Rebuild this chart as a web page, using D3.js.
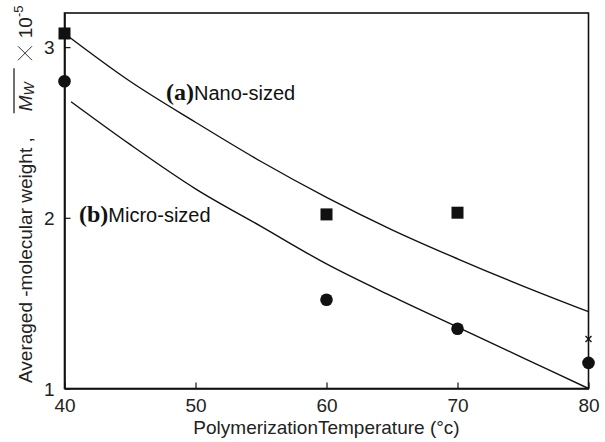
<!DOCTYPE html>
<html><head><meta charset="utf-8">
<script src="https://cdn.jsdelivr.net/npm/d3@7"></script>
<style>html,body{margin:0;padding:0;background:#fff;}svg{display:block;}</style>
</head><body>
<svg id="chart" width="605" height="442"></svg>
<script>
// Data
const xTicks = [40, 50, 60, 70, 80];
const yTicks = [1, 2, 3];
const nanoTemps = [40, 60, 70];
const nanoValues = [3.08, 2.02, 2.03];
const microTemps = [40, 60, 70, 80];
const microValues = [2.80, 1.52, 1.35, 1.15];
const crossTemps = [80];
const crossValues = [1.29];
const nanoCurveTemps = [40, 45, 50, 55, 60, 65, 70, 75, 80];
const nanoCurveValues = [3.08, 2.80, 2.56, 2.33, 2.12, 1.93, 1.76, 1.60, 1.45];
const microCurveTemps = [40.5, 45, 50, 55, 60, 65, 70, 75, 80];
const microCurveValues = [2.68, 2.43, 2.17, 1.95, 1.73, 1.54, 1.36, 1.18, 1.0];

const svg = d3.select("#chart");
const W = 605, H = 442;
const m = {left: 64.5, right: 16.5, top: 13, bottom: 53.5};
const x = d3.scaleLinear().domain([40, 80]).range([m.left, W - m.right]);
const y = d3.scaleLinear().domain([1, 3.2]).range([H - m.bottom, m.top]);
const sans = "Liberation Sans, Arial, Helvetica, sans-serif";
const serif = "Liberation Serif, Times New Roman, serif";

// frame
svg.append("rect").attr("x", x(40)).attr("y", y(3.2))
  .attr("width", x(80) - x(40)).attr("height", y(1) - y(3.2))
  .attr("fill", "none").attr("stroke", "#111").attr("stroke-width", 1.6);

// axes with inward ticks
const xAxis = d3.axisBottom(x).tickValues(xTicks).tickFormat(d3.format("d"))
  .tickSizeInner(-6).tickSizeOuter(0).tickPadding(10);
const gx = svg.append("g").attr("transform", `translate(0,${y(1)})`).call(xAxis);
const yAxis = d3.axisLeft(y).tickValues(yTicks).tickFormat(d3.format("d"))
  .tickSizeInner(-6).tickSizeOuter(0).tickPadding(10);
const gy = svg.append("g").attr("transform", `translate(${x(40)},0)`).call(yAxis);
[gx, gy].forEach(g => {
  g.select(".domain").attr("stroke", "#111").attr("stroke-width", 1.6);
  g.selectAll(".tick line").attr("stroke", "#111").attr("stroke-width", 1.2);
  g.selectAll(".tick text").attr("font-family", sans).attr("font-size", 19).attr("fill", "#222");
});
gx.selectAll(".tick text").attr("dy", "0.72em");
gy.selectAll(".tick text").attr("dy", "0.36em");

// curves
const line = d3.line().x(d => x(d[0])).y(d => y(d[1])).curve(d3.curveMonotoneX);
svg.append("path").datum(nanoCurveTemps.map((t, i) => [t, nanoCurveValues[i]]))
  .attr("d", line).attr("fill", "none").attr("stroke", "#111").attr("stroke-width", 1.4);
svg.append("path").datum(microCurveTemps.map((t, i) => [t, microCurveValues[i]]))
  .attr("d", line).attr("fill", "none").attr("stroke", "#111").attr("stroke-width", 1.4);

// markers
const sq = 12;
svg.selectAll("rect.nano").data(nanoTemps.map((t, i) => [t, nanoValues[i]])).enter()
  .append("rect").attr("class", "nano")
  .attr("x", d => x(d[0]) - sq / 2).attr("y", d => y(d[1]) - sq / 2)
  .attr("width", sq).attr("height", sq).attr("fill", "#111");
svg.selectAll("circle.micro").data(microTemps.map((t, i) => [t, microValues[i]])).enter()
  .append("circle").attr("class", "micro")
  .attr("cx", d => x(d[0])).attr("cy", d => y(d[1])).attr("r", 6.3).attr("fill", "#111");
const cr = 3;
crossTemps.forEach((t, i) => {
  const cx = x(t), cy = y(crossValues[i]);
  svg.append("path").attr("d", `M${cx-cr},${cy-cr}L${cx+cr},${cy+cr}M${cx-cr},${cy+cr}L${cx+cr},${cy-cr}`)
    .attr("stroke", "#111").attr("stroke-width", 1.3);
});

// annotations
function annot(px, py, tag, label) {
  const t = svg.append("text").attr("x", px).attr("y", py).attr("fill", "#111");
  t.append("tspan").attr("font-family", serif).attr("font-weight", "bold").attr("font-size", 24).text(tag);
  t.append("tspan").attr("font-family", sans).attr("font-size", 20).text(label);
}
annot(166, 100, "(a)", "Nano-sized");
annot(79, 222, "(b)", "Micro-sized");

// x label
svg.append("text").attr("x", (x(40) + x(80)) / 2).attr("y", 434).attr("text-anchor", "middle")
  .attr("font-family", sans).attr("font-size", 19).attr("fill", "#222")
  .text("PolymerizationTemperature (°c)");

// y label (rotated, built from pieces)
const gl = svg.append("g").attr("transform", "translate(32,383) rotate(-90)");
const p1 = gl.append("text").attr("x", 0).attr("y", 0)
  .attr("font-family", sans).attr("font-size", 19).attr("fill", "#222")
  .text("Averaged -molecular weight ,");
let cx0 = p1.node().getComputedTextLength() + 26;
const mw = gl.append("text").attr("x", cx0).attr("y", 0)
  .attr("font-family", sans).attr("font-size", 19).attr("font-style", "italic").attr("fill", "#222");
mw.append("tspan").text("M");
mw.append("tspan").attr("font-size", 14).attr("dy", 2).text("W");
const mwLen = mw.node().getComputedTextLength();
gl.append("line").attr("x1", cx0 - 2).attr("x2", cx0 + mwLen + 14)
  .attr("y1", -18).attr("y2", -18).attr("stroke", "#222").attr("stroke-width", 1.3);
cx0 += mwLen + 22;
// large thin multiplication cross
const xs = 7, xc = cx0 + xs, yc = -7;
gl.append("path").attr("d", `M${xc-xs},${yc-xs}L${xc+xs},${yc+xs}M${xc-xs},${yc+xs}L${xc+xs},${yc-xs}`)
  .attr("stroke", "#333").attr("stroke-width", 1);
cx0 += 2 * xs + 8;
const tx = gl.append("text").attr("x", cx0).attr("y", 0)
  .attr("font-family", sans).attr("font-size", 19).attr("fill", "#222");
tx.append("tspan").text("10");
tx.append("tspan").attr("font-size", 13).attr("dy", -9).text("-5");
</script>
</body></html>
